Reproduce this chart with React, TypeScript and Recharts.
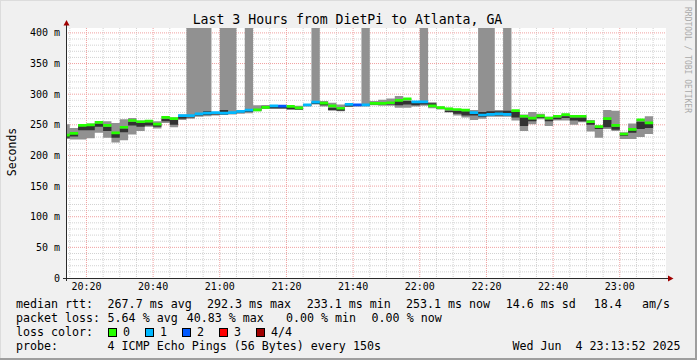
import { Area, CartesianGrid, ComposedChart, XAxis, YAxis } from "recharts";

const FONT = "'DejaVu Sans Mono', monospace";

// slots are 150 s wide; times in minutes after 20:00
const SLOT_START = 12.5;
const SLOT_LEN = 2.5;
const VIEW = [13.867, 193.867]; // 20:13:52 .. 23:13:52

const timeTicks = [20, 40, 60, 80, 100, 120, 140, 160, 180];
const timeLabels = ["20:20", "20:40", "21:00", "21:20", "21:40", "22:00", "22:20", "22:40", "23:00"];
const rttTicks = [0, 50, 100, 150, 200, 250, 300, 350, 400];

const median = [
  233.1, 236, 249, 250, 254, 249, 237, 246, 257, 255, 256, 251, 262, 260, 265, 265, 268, 269, 270, 269, 270,
  272, 274, 274.5, 278.5, 281, 280.5, 280, 277.5, 282.5, 287, 285.5, 281, 277, 283.5, 282.5, 282.5, 285, 285,
  286, 290, 292.3, 287.5, 287.5, 281, 278, 276, 275, 274, 270, 266, 267, 268, 267, 273, 264, 261, 264.5, 261,
  264, 266.5, 264, 264, 255, 247, 260, 249, 235, 242.5, 258, 253.1,
];
const pingLo = [
  227, 226, 226, 228, 237, 229, 221, 225, 234, 240, 247, 244, 253, 246, 258, 260, 263, 264, 265, 266, 267,
  268, 269, 272, 276, 276, 276, 274, 274, 280, 283, 280, 273, 272, 279, 280, 280, 282, 281, 281, 278, 278,
  280, 281, 277, 275, 270, 265, 262, 258, 260, 263, 263, 263, 257, 240, 251, 259, 248, 257, 257, 250, 254,
  239, 229, 243, 240, 227, 227, 230, 235,
];
const pingLo2 = [
  229, 231, 241, 241, 247, 240, 229, 238, 249, 247, 249, 247, 256, 250, 260, 262, 265, 266, 267, 267, 268,
  270, 271, 273, 277, 277, 277, 276, 275, 281, 284, 282, 274, 273, 280, 281, 281, 283, 283, 283, 282, 283,
  282, 283, 280, 276, 271, 268, 265, 265, 263, 265, 265, 265, 262, 248, 256, 261, 256, 259, 261, 257, 256,
  250, 243, 246, 242, 232, 237, 243, 245,
];
const pingHi2 = [
  233, 236, 248, 248, 252, 247, 235, 244, 255, 253, 254, 251, 260, 258, 264, 265, 268, 272, 270, 274, 270,
  272, 274, 276, 281, 280, 279, 279, 278, 283, 287, 285, 278, 278, 283, 282, 283, 285, 286, 286, 289, 289,
  287, 287, 285, 278, 273, 273, 272, 268, 271, 272, 272, 273, 271, 262, 259, 263, 259, 262, 264, 262, 262,
  253, 246, 258, 247, 234, 241, 255, 252,
];
const pingHi = [
  251, 245, 251, 252, 256, 256, 253, 259, 261, 257, 258, 256, 264, 262, 267, 600, 600, 600, 271, 600, 600,
  274, 600, 282, 282, 282, 281, 281, 281, 284, 600, 289, 286, 283, 284, 284, 600, 289, 291, 293, 297, 293,
  288, 600, 287, 280, 278, 276, 276, 274, 600, 600, 274, 600, 274, 267, 271, 268, 263, 265, 268, 266, 265,
  258, 249, 274, 273, 238, 252, 259, 264,
];
const lossCount = [
  0, 0, 0, 0, 0, 0, 0, 0, 0, 0, 0, 0, 0, 0, 1, 1, 1, 1, 1, 1, 1,
  1, 1, 0, 0, 1, 2, 0, 0, 1, 1, 0, 0, 0, 1, 2, 1, 0, 0, 0, 0, 0,
  1, 1, 0, 0, 0, 0, 0, 1, 1, 1, 1, 1, 0, 0, 0, 0, 0, 0, 0, 0, 0,
  0, 0, 0, 0, 0, 0, 0, 0,
];

const lossLabels = ["0", "1", "2", "3", "4/4"];
const lossColors = ["#26ff00", "#00b8ff", "#0059ff", "#ff0000", "#a00000"];

const MED_HALF = 2.2;

const rows = median.map((m, i) => {
  const row: Record<string, unknown> = {
    t: SLOT_START + i * SLOT_LEN,
    outer: [pingLo[i], pingHi[i]],
    inner: [pingLo2[i], pingHi2[i]],
  };
  lossColors.forEach((_, k) => {
    row[`med${k}`] = lossCount[i] === k ? [m - MED_HALF, m + MED_HALF] : [m, m];
  });
  return row;
});
// close the last step
rows.push({ ...rows[rows.length - 1], t: SLOT_START + median.length * SLOT_LEN });

const minorY: number[] = [];
for (let v = 10; v <= 400; v += 10) if (v % 50 !== 0) minorY.push(v);
const minorX: number[] = [];
for (let t = 15; t <= 190; t += 5) if (t % 20 !== 0) minorX.push(t);

const statsRows = [
  { y: 308.3, parts: [["median rtt:", 16], ["267.7 ms avg", 107.6], ["292.3 ms max", 207], ["233.1 ms min", 306.7], ["253.1 ms now", 406], ["14.6 ms sd", 505.8], ["18.4", 593.8], ["am/s", 642]] },
  { y: 322.3, parts: [["packet loss:", 16], ["5.64 % avg", 107.6], ["40.83 % max", 186.7], ["0.00 % min", 286], ["0.00 % now", 371.6]] },
  { y: 350.3, parts: [["probe:", 16], ["4 ICMP Echo Pings (56 Bytes) every 150s", 107.6], ["Wed Jun  4 23:13:52 2025", 512.4]] },
];
const lossBoxX = [108.5, 145.5, 182.5, 219.5, 256.5];

export default function App() {
  return (
    <div style={{ position: "absolute", left: 0, top: 0, width: 697, height: 360, background: "#f0f0f0", fontFamily: FONT }}>
      <ComposedChart
        width={697}
        height={360}
        data={rows}
        margin={{ top: 28, right: 31, bottom: 62, left: 0 }}
        style={{ position: "absolute", left: 0, top: 0 }}
      >
        <CartesianGrid fill="#ffffff" stroke="#d2d2d2" strokeDasharray="1 1" horizontalValues={minorY} verticalValues={minorX} />
        <CartesianGrid stroke="#f0a0a0" strokeDasharray="1 1" horizontalValues={rttTicks.slice(1)} verticalValues={timeTicks} />
        <XAxis
          type="number"
          dataKey="t"
          domain={VIEW}
          allowDataOverflow
          ticks={timeTicks}
          interval={0}
          tickFormatter={(v: number) => timeLabels[timeTicks.indexOf(v)] ?? ""}
          axisLine={false}
          tickLine={false}
          tickSize={0}
          tickMargin={5}
          height={20}
          tick={{ fill: "#000", fontSize: 10, fontFamily: FONT }}
        />
        <YAxis
          type="number"
          domain={[0, 408]}
          allowDataOverflow
          ticks={rttTicks}
          interval={0}
          tickFormatter={(v: number) => (v === 0 ? "0" : `${v} m`)}
          axisLine={false}
          tickLine={false}
          tickSize={0}
          tickMargin={6}
          width={66}
          tick={{ fill: "#000", fontSize: 10, fontFamily: FONT }}
        />
        <Area type="stepAfter" dataKey="outer" fill="#919191" fillOpacity={1} stroke="none" dot={false} activeDot={false} isAnimationActive={false} />
        <Area type="stepAfter" dataKey="inner" fill="#323232" fillOpacity={1} stroke="none" dot={false} activeDot={false} isAnimationActive={false} />
        {lossColors.map((c, k) => (
          <Area
            key={k}
            type="stepAfter"
            dataKey={`med${k}`}
            fill={c}
            fillOpacity={1}
            stroke="none"
            dot={false}
            activeDot={false}
            isAnimationActive={false}
          />
        ))}
      </ComposedChart>

      <svg width={697} height={360} style={{ position: "absolute", left: 0, top: 0, pointerEvents: "none" }} fontFamily={FONT}>
        {/* frame */}
        <line x1={0} y1={0.5} x2={697} y2={0.5} stroke="#dcdcdc" />
        <line x1={0.5} y1={0} x2={0.5} y2={360} stroke="#dcdcdc" />
        <line x1={0} y1={359} x2={697} y2={359} stroke="#9e9e9e" strokeWidth={2} />
        <line x1={696} y1={0} x2={696} y2={360} stroke="#9e9e9e" strokeWidth={2} />

        {/* axes with arrows */}
        <line x1={66.5} y1={281} x2={66.5} y2={24} stroke="#2a2a2a" />
        <line x1={63} y1={278.5} x2={669} y2={278.5} stroke="#2a2a2a" />
        <polygon points="63.5,25.5 69.5,25.5 66.5,20" fill="#a00000" />
        <polygon points="668,275.5 668,281.5 673.5,278.5" fill="#a00000" />

        <text x={347.5} y={23.5} fontSize={13.2} textAnchor="middle" fill="#000">
          Last 3 Hours from DietPi to Atlanta, GA
        </text>
        <text transform="translate(15.5,152) rotate(-90)" fontSize={11.5} textAnchor="middle" fill="#000">
          Seconds
        </text>
        <text transform="translate(685,7) rotate(90)" fontSize={8} fill="#aaaaaa">
          RRDTOOL / TOBI OETIKER
        </text>

        {statsRows.map((r, i) =>
          r.parts.map(([s, x], j) => (
            <text key={`${i}-${j}`} x={x as number} y={r.y} fontSize={11.65} fill="#000" xmlSpace="preserve" style={{ whiteSpace: "pre" }}>
              {s as string}
            </text>
          )),
        )}
        <text x={16} y={336.3} fontSize={11.65} fill="#000">
          loss color:
        </text>
        {lossLabels.map((l, k) => (
          <g key={l}>
            <rect x={lossBoxX[k]} y={328.5} width={8} height={8} fill={lossColors[k]} stroke="#000" />
            <text x={lossBoxX[k] + 14.5} y={336.3} fontSize={11.65} fill="#000">
              {l}
            </text>
          </g>
        ))}
      </svg>
    </div>
  );
}
